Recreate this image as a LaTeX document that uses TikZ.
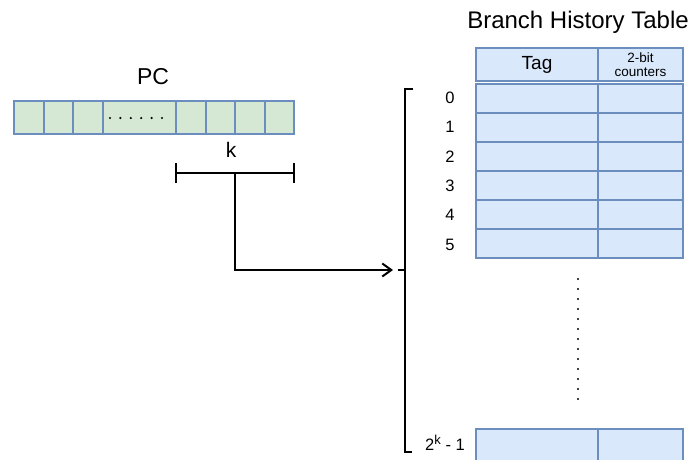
\documentclass[tikz,border=0pt]{standalone}
\usepackage{fontspec}
\setmainfont{Liberation Sans}
\usetikzlibrary{arrows.meta}
\definecolor{cellgreen}{HTML}{D5E8D4}
\definecolor{cellblue}{HTML}{DAE8FC}
\definecolor{cellline}{HTML}{6C8EBF}
\tikzset{
  pccell/.style={draw=cellline, fill=cellgreen, line width=2pt, minimum height=33pt, inner sep=0pt, anchor=west},
  tabcell/.style={draw=cellline, fill=cellblue, line width=2pt, inner sep=0pt, anchor=north west},
  wire/.style={line width=2pt, black},
  idx/.style={font=\fontsize{16.5}{18}\selectfont, inner sep=0pt},
}
\begin{document}
\begin{tikzpicture}[x=1pt,y=-1pt]
\useasboundingbox (0,0) rectangle (694,459);

% program counter bits
\node[font=\fontsize{23}{26}\selectfont] (pclabel) at (153,77) {PC};
\node[pccell, minimum width=29.5pt] (b1) at (13,117) {};
\node[pccell, minimum width=29.5pt] (b2) at (42.5,117) {};
\node[pccell, minimum width=29.5pt] (b3) at (72,117) {};
\node[pccell, minimum width=73.5pt] (b4) at (101.5,117) {};
\node[pccell, minimum width=29.5pt] (b5) at (175,117) {};
\node[pccell, minimum width=29.5pt] (b6) at (204.5,117) {};
\node[pccell, minimum width=29.5pt] (b7) at (234,117) {};
\node[pccell, minimum width=29.5pt] (b8) at (263.5,117) {};
\foreach \i in {0,...,5} \fill (110+\i*10.4,118) circle (1.2pt);

% k index bits
\node[font=\fontsize{21}{24}\selectfont] (klabel) at (231,150) {k};
\coordinate (kl) at (176,173);
\coordinate (kr) at (294,173);
\coordinate (km) at (235,173);
\draw[wire] (kl) -- (kr);
\draw[wire] ([yshift=-10pt]kl) -- ([yshift=10pt]kl);
\draw[wire] ([yshift=-10pt]kr) -- ([yshift=10pt]kr);

% table index bracket
\coordinate (bt) at (405,89);
\coordinate (bb) at (405,452);
\coordinate (bm) at (405,270);
\draw[wire] (413,89) -- (bt) -- (bb) -- (412,452);
\draw[wire] (bm) -- ++(-7,0);

% index lookup
\draw[wire, -{Straight Barb[length=9pt,width=13pt,line width=2pt]}, shorten >=12pt] (km) |- (bm);

% branch history table
\node[font=\fontsize{24}{28}\selectfont] (title) at (578,22) {Branch History Table};
\node[tabcell, minimum width=122pt, minimum height=33pt] (htag) at (475,47) {};
\node[tabcell, minimum width=85pt, minimum height=33pt] (hcnt) at (597,47) {};
\node[font=\fontsize{19}{21}\selectfont] at (htag.center) {Tag};
\node[font=\fontsize{13.5}{14.5}\selectfont, align=center] at (hcnt.center) {2-bit\\counters};

\foreach \r in {0,...,5} {
  \node[tabcell, minimum width=122pt, minimum height=29pt] (t\r) at (475,83+\r*29) {};
  \node[tabcell, minimum width=85pt, minimum height=29pt] (c\r) at (597,83+\r*29) {};
  \node[idx] (n\r) at (450,97.5+\r*29.4) {\r};
}
\node[tabcell, minimum width=122pt, minimum height=36pt] (tl) at (475,428) {};
\node[tabcell, minimum width=85pt, minimum height=36pt] (cl) at (597,428) {};
\node[idx] (nl) at (445,443) {2\raisebox{6.5pt}{\fontsize{13}{14}\selectfont k} - 1};

\foreach \j in {0,...,12} \fill (578,279+\j*10) circle (1.2pt);
\end{tikzpicture}
\end{document}
